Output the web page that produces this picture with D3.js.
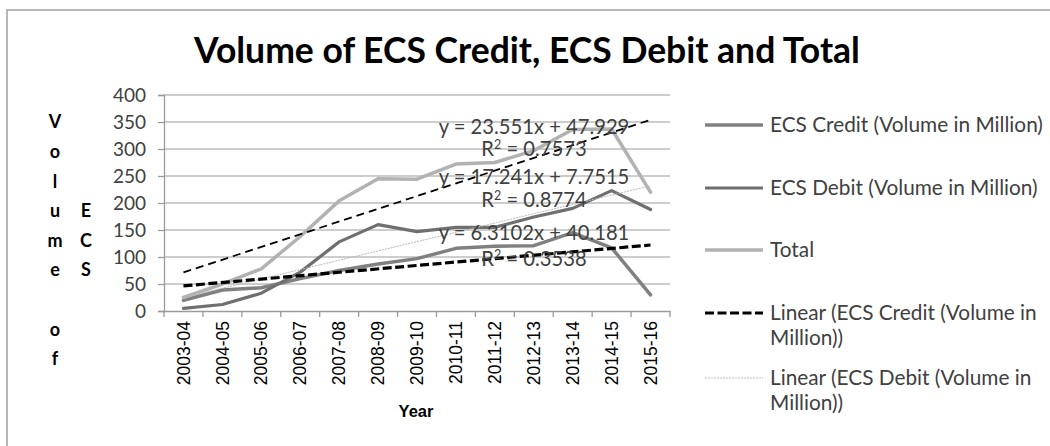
<!DOCTYPE html>
<html><head><meta charset="utf-8">
<script src="https://cdn.jsdelivr.net/npm/d3@7/dist/d3.min.js"></script>
<style>
html,body{margin:0;padding:0;background:#fff;}
svg{display:block;}
</style></head>
<body>
<svg id="chart" width="1050" height="446"></svg>
<script>
const years = ["2003-04","2004-05","2005-06","2006-07","2007-08","2008-09","2009-10","2010-11","2011-12","2012-13","2013-14","2014-15","2015-16"];
const credit = [20, 39, 43, 60, 75, 87, 97, 116, 120, 121, 145, 117, 30];
const debit  = [5, 12, 33, 72, 128, 160, 147, 155, 155, 174, 190, 223, 188];
const total  = [25, 50, 78, 138, 204, 245, 244, 272, 275, 297, 336, 337, 220];
const yTicks = [0, 50, 100, 150, 200, 250, 300, 350, 400];
// trendline coefficients as printed on the chart
const trendTotal  = {slope: 23.551, intercept: 47.929, r2: "0.7573"};
const trendDebit  = {slope: 17.241, intercept: 7.7515, r2: "0.8774"};
const trendCredit = {slope: 6.3102, intercept: 40.181, r2: "0.3538"};
const titleText = "Volume of ECS Credit, ECS Debit and Total";
const yTitleCol1 = "Volume of";
const yTitleCol2 = "ECS";
const xTitle = "Year";
const legendItems = [
  {lines:["ECS Credit (Volume in Million)"], key:"credit"},
  {lines:["ECS Debit (Volume in Million)"], key:"debit"},
  {lines:["Total"], key:"total"},
  {lines:["Linear (ECS Credit (Volume in","Million))"], key:"lcredit"},
  {lines:["Linear (ECS Debit (Volume in","Million))"], key:"ldebit"}
];

const svg = d3.select("#chart");
const FONT = "Lato, 'Open Sans', sans-serif";
const styles = {
  credit:  {stroke:"#808080", width:3.5, dash:null},
  debit:   {stroke:"#6f6f6f", width:3.2, dash:null},
  total:   {stroke:"#b2b2b2", width:3.5, dash:null},
  lcredit: {stroke:"#000", width:3.2, dash:"9,3.5"},
  ldebit:  {stroke:"#b8b8b8", width:1, dash:"2,1"},
  ltotal:  {stroke:"#000", width:1.8, dash:"8,5"}
};

svg.append("rect").attr("width",1050).attr("height",446).attr("fill","#fff");
svg.append("path").attr("d","M7,446V10H1050").attr("fill","none").attr("stroke","#a0a0a0").attr("stroke-width",1.5);

const x = d3.scaleBand().domain(years).range([164, 670]).padding(0);
const y = d3.scaleLinear().domain([0, 400]).range([311, 95]);
const cx = d => x(d) + x.bandwidth()/2;

// gridlines
svg.append("g").selectAll("line").data(yTicks.filter(t=>t>0)).join("line")
  .attr("x1",164).attr("x2",670).attr("y1",d=>y(d)).attr("y2",d=>y(d))
  .attr("stroke","#bdbdbd").attr("stroke-width",1.3);

// y axis
const yAxis = svg.append("g").attr("transform","translate(164,0)")
  .call(d3.axisLeft(y).tickValues(yTicks).tickSize(6).tickPadding(12));
yAxis.select(".domain").attr("stroke","#9a9a9a").attr("stroke-width",1.3);
yAxis.selectAll(".tick line").attr("stroke","#9a9a9a").attr("stroke-width",1.3);
yAxis.selectAll("text").attr("font-family",FONT).attr("font-size",19).attr("fill","#404040");

// x axis
const xAxis = svg.append("g").attr("transform","translate(0,311)")
  .call(d3.axisBottom(x).tickSize(0).tickPadding(0));
xAxis.select(".domain").attr("stroke","#9a9a9a").attr("stroke-width",1.3);
xAxis.selectAll(".tick line").remove();
const bounds = years.map(d=>x(d)).concat([670]);
xAxis.append("g").selectAll("line").data(bounds).join("line")
  .attr("x1",d=>d).attr("x2",d=>d).attr("y1",0).attr("y2",6)
  .attr("stroke","#9a9a9a").attr("stroke-width",1.3);
xAxis.selectAll(".tick text")
  .attr("font-family","'Liberation Sans', Arial, sans-serif").attr("font-size",17.5).attr("fill","#000")
  .attr("text-anchor","end").attr("dy","0.35em")
  .attr("transform","translate(0,10) rotate(-90)").attr("x",0).attr("y",0);

// series lines
const line = d3.line().x((d,i)=>cx(years[i])).y(d=>y(d));
function drawSeries(data, st){
  svg.append("path").datum(data).attr("d",line).attr("fill","none")
    .attr("stroke",st.stroke).attr("stroke-width",st.width)
    .attr("stroke-linejoin","round").attr("stroke-linecap","round");
}
drawSeries(credit, styles.credit);
drawSeries(debit, styles.debit);
drawSeries(total, styles.total);

// trendlines
function drawTrend(t, st){
  const pts = [1, years.length].map(k => [cx(years[k-1]), y(t.slope*k + t.intercept)]);
  svg.append("path").attr("d", d3.line()(pts)).attr("fill","none")
    .attr("stroke",st.stroke).attr("stroke-width",st.width)
    .attr("stroke-dasharray",st.dash);
}
drawTrend(trendDebit, styles.ldebit);
drawTrend(trendTotal, styles.ltotal);
drawTrend(trendCredit, styles.lcredit);

// equation labels
const eqs = [
  {t:trendTotal, y1:127, y2:149},
  {t:trendDebit, y1:177, y2:200},
  {t:trendCredit, y1:233, y2:259}
];
const fmt = v => String(v);
eqs.forEach(e=>{
  const g = svg.append("g").attr("font-family",FONT).attr("font-size",20.2).attr("fill","#404040").attr("text-anchor","middle");
  g.append("text").attr("x",534).attr("y",e.y1).attr("dy","0.35em")
    .text(`y = ${fmt(e.t.slope)}x + ${fmt(e.t.intercept)}`);
  const r = g.append("text").attr("x",534).attr("y",e.y2).attr("dy","0.35em");
  r.append("tspan").text("R");
  r.append("tspan").text("2").attr("font-size",12.5).attr("dy","-0.55em");
  r.append("tspan").text(` = ${e.t.r2}`).attr("dy","0.35em");
});

// title
svg.append("text").attr("x",527).attr("y",51).attr("dy","0.35em")
  .attr("text-anchor","middle").attr("font-family",FONT).attr("font-weight","bold")
  .attr("font-size",35.5).attr("fill","#000").text(titleText);

// y axis title, stacked
const col1 = yTitleCol1.split("");
const col2 = yTitleCol2.split("");
const rowH = 29.6, midY = 240.5;
[[col1,55],[col2,86]].forEach(([chars,xx])=>{
  const start = midY - (chars.length-1)*rowH/2;
  svg.append("g").selectAll("text").data(chars).join("text")
    .attr("x",xx).attr("y",(d,i)=>start+i*rowH).attr("dy","0.35em")
    .attr("text-anchor","middle").attr("font-family",FONT).attr("font-weight","bold")
    .attr("font-size",18).attr("fill","#000").text(d=>d);
});

// x title
svg.append("text").attr("x",416).attr("y",411).attr("dy","0.35em").attr("text-anchor","middle")
  .attr("font-family","'Liberation Sans', Arial, sans-serif").attr("font-weight","bold")
  .attr("font-size",16.5).attr("fill","#000").text(xTitle);

// legend
const legY = [125, 188, 250, 313, 378];
const lg = svg.append("g");
legendItems.forEach((it,i)=>{
  const st = styles[it.key];
  lg.append("line").attr("x1",705).attr("x2",763).attr("y1",legY[i]).attr("y2",legY[i])
    .attr("stroke",st.stroke).attr("stroke-width",st.width).attr("stroke-dasharray",st.dash);
  it.lines.forEach((t,j)=>{
    lg.append("text").attr("x",770).attr("y",legY[i]+j*24.5).attr("dy","0.35em")
      .attr("font-family",FONT).attr("font-size",20.8).attr("fill","#404040").text(t);
  });
});
</script>
</body></html>
